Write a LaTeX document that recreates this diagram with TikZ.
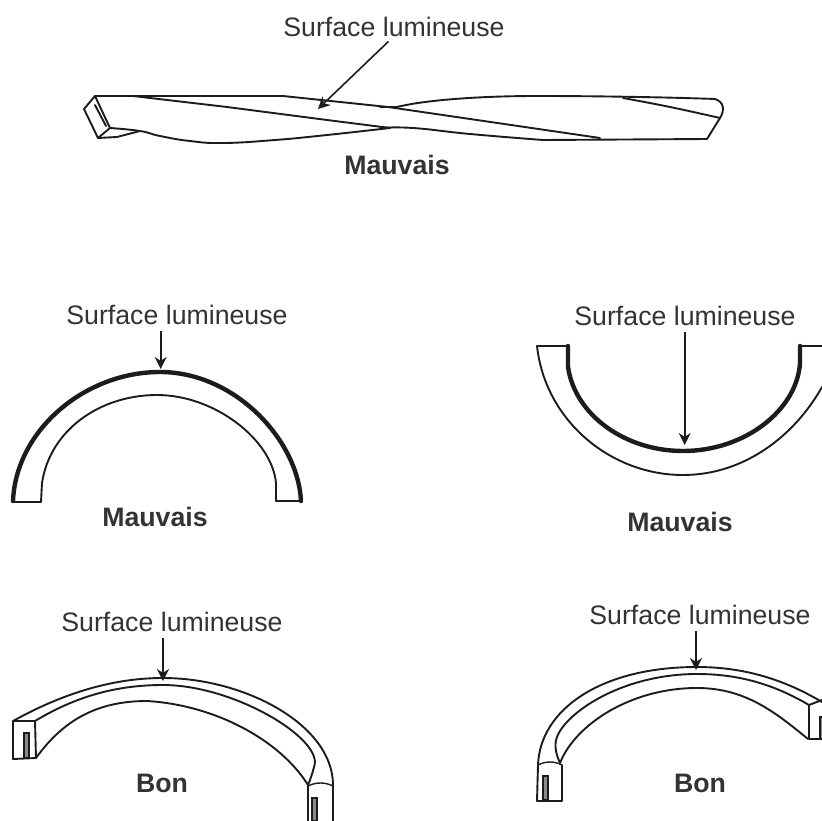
\documentclass[tikz,border=0pt]{standalone}
\usepackage{fontspec}
\setmainfont{Liberation Sans}
\usetikzlibrary{arrows.meta}
\begin{document}
\begin{tikzpicture}[
    x=1pt, y=-1pt,
    edge/.style={draw=ink, line width=1.9pt, line join=round, line cap=round},
    lit/.style={draw=ink, line width=4.4pt, line join=round, line cap=round},
    thin edge/.style={draw=ink, line width=1.4pt},
    slot/.style={draw=ink, line width=1.3pt, fill=slotgrey},
    pointer/.style={draw=ink, line width=1.6pt, shorten <=5pt, -{Stealth[length=12pt, width=12pt]}},
    caption/.style={font=\fontsize{26.7}{29}\selectfont, text=label, inner sep=1pt},
    verdict/.style={font=\fontsize{26.7}{29}\selectfont\bfseries, text=label, inner sep=1pt}
]
\definecolor{ink}{HTML}{1C1C1C}
\definecolor{label}{HTML}{333333}
\definecolor{slotgrey}{HTML}{8A8A8A}

\useasboundingbox (0,0) rectangle (822,821);
\def\soft{0.8}

% Captions and verdicts.
\foreach \name/\x/\y in {lumtop/394/27, lumleft/177/315, lumright/685/316, lumbonl/172/622, lumbonr/700/615} {
  \node[caption] (\name) at (\x,\y) {Surface lumineuse};
}
\foreach \name/\x/\y/\lab in {vtop/397/165/Mauvais, vleft/155/517/Mauvais, vright/680/522/Mauvais, vbonl/162/783/Bon, vbonr/700/783/Bon} {
  \node[verdict] (\name) at (\x,\y) {\lab};
}

% Arrow ends on the surfaces.
\foreach \name/\x/\y in {tiptop/318/109, tipleft/160.7/369, tipright/684.7/445, tipbonl/163/681, tipbonr/696/670} {
  \coordinate (\name) at (\x,\y);
}

% (1) Twisted bar.
\draw[edge] (95,96) -- (84,109) -- (98,138) -- (110,128) -- cycle;
\draw[edge] (95,105) -- (106,126);
\draw[edge] (95,96) -- (283,96) -- (388,107);
\draw[edge] (388,107) -- (600,138);
\draw[edge] (133,96) -- (227,107) -- (327,120) -- (390,128);
\draw[edge] plot[smooth, tension=\soft] coordinates {(110,128) (140,131) (160,136) (190,141) (223,143) (275,140) (327,135) (390,128)};
\draw[edge] (98,138) -- (117,137) -- (140,131);
\draw[edge] plot[smooth, tension=\soft] coordinates {(380,128) (413,128) (470,134) (543,140)};
\draw[edge] (543,140) -- (707,139) -- (720,118) .. controls (725,110) and (724,102) .. (715,99);
\draw[edge] (715,99) .. controls (660,97) and (590,96) .. (537,96) .. controls (480,96) and (425,100) .. (397,107) -- (380,107);
\draw[edge] plot[smooth, tension=\soft] coordinates {(623,98) (670,107) (720,118)};

% (2) Arch, lit on the outside.
\draw[edge] (41,502) -- (42,483) .. controls (50,430) and (100,395) .. (157,395) .. controls (215,395) and (272,440) .. (276,483) -- (276,501);
\draw[edge] (13,502) -- (41,502);
\draw[edge] (276,501) -- (301,501);
\draw[lit] (13,501) .. controls (16,430) and (85,372) .. (160,372) .. controls (235,372) and (298,440) .. (301,501);

% (3) Cup, lit on the inside.
\draw[edge] (537,346) .. controls (545,420) and (610,475) .. (683,475) .. controls (745,475) and (795,435) .. (822,387);
\draw[edge] (537,346) -- (568,346);
\draw[edge] (800,346) -- (822,346);
\draw[lit] (568,346) -- (568,367) .. controls (575,415) and (625,451) .. (683,451) .. controls (745,451) and (797,410) .. (800,363) -- (800,346);

% (4) Arch with a flat, left.
\draw[edge] (13,721) .. controls (60,695) and (110,678) .. (163,678) .. controls (245,678) and (333,725) .. (333,785) -- (333,821);
\draw[edge] (35,721) .. controls (75,697) and (115,685) .. (163,685) .. controls (235,685) and (325,740) .. (314,767) .. controls (312,775) and (310,780) .. (308,785);
\draw[edge] (36,758) .. controls (62,722) and (95,701) .. (147,701) .. controls (215,705) and (280,740) .. (308,785);
\draw[edge] (13,721) -- (35,721) -- (36,758) -- (13,759) -- cycle;
\draw[edge] (308,786) -- (308,821);
\draw[thin edge] (308,786) .. controls (316,782) and (325,782) .. (333,786);
\draw[slot] (24,733) rectangle (29,758);
\draw[slot] (312,798) rectangle (317,821);

% (5) Arch with a flat, right.
\draw[edge] (538,765) .. controls (540,710) and (600,667) .. (697,667) .. controls (745,667) and (785,680) .. (822,702);
\draw[edge] (560,763) .. controls (555,752) and (555,745) .. (556,740) .. controls (562,715) and (620,674) .. (697,674) .. controls (740,674) and (775,685) .. (809,705);
\draw[edge] (560,763) .. controls (575,725) and (630,688) .. (697,688) .. controls (745,688) and (775,712) .. (808,739);
\draw[edge] (822,700) -- (809,705) -- (809,739) -- (822,739);
\draw[edge] (538,765) -- (537,801) -- (562,801) -- (562,765);
\draw[thin edge] (538,765) .. controls (546,761) and (554,761) .. (562,765);
\draw[slot] (543,776) rectangle (548,800);
\draw[slot] (820,717) rectangle (824,739);

% Arrows from the captions.
\draw[pointer] (lumtop.260) -- (tiptop);
\draw[pointer] (lumleft.south -| tipleft) -- (tipleft);
\draw[pointer] (lumright.south -| tipright) -- (tipright);
\draw[pointer] (lumbonl.south -| tipbonl) -- (tipbonl);
\draw[pointer] (lumbonr.south -| tipbonr) -- (tipbonr);
\end{tikzpicture}
\end{document}
